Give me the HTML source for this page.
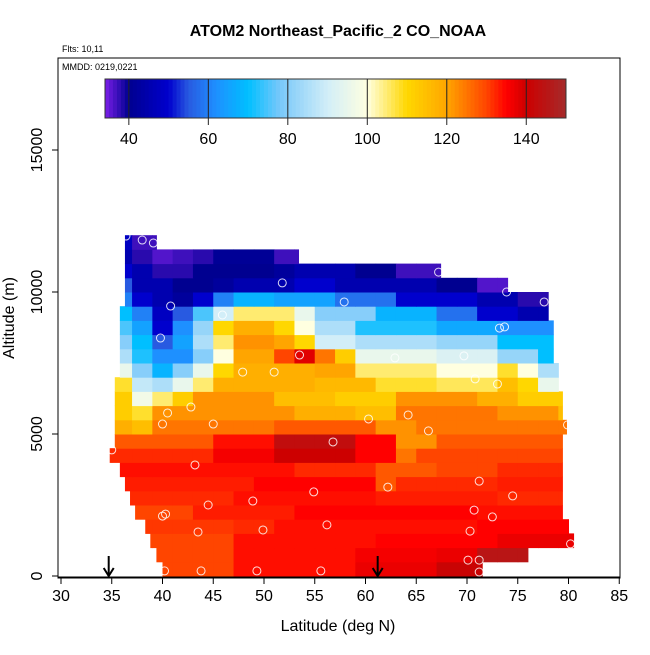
<!DOCTYPE html>
<html><head><meta charset="utf-8"><style>
body{margin:0;background:#fff;}
svg text{font-family:"Liberation Sans",sans-serif;}
</style></head><body>
<svg id="chart" width="650" height="650" xmlns="http://www.w3.org/2000/svg">
<text x="338" y="36" text-anchor="middle" font-size="16" font-weight="bold">ATOM2 Northeast_Pacific_2 CO_NOAA</text>
<text x="62" y="52" font-size="9">Flts: 10,11</text>
<g id="cells"></g>
<g id="pts"></g>
<rect x="58" y="58" width="562" height="520" fill="none" stroke="#000" stroke-width="1"/>
<text x="62" y="70" font-size="9">MMDD: 0219,0221</text>
<g id="cbar"></g>
<g id="axes"></g>
<text x="338" y="631" text-anchor="middle" font-size="16">Latitude (deg N)</text>
<text transform="translate(14,318) rotate(-90)" text-anchor="middle" font-size="16">Altitude (m)</text>
</svg>
<script>
const N=null;
const colLats=[34,36,38,40,42,44,46,48,50,52,54,56,58,60,62,64,66,68,70,72,74,76,78,80];
const rowStart=[40.0,39.4,38.8,38.3,37.3,36.8,36.3,35.8,34.8,35.3,35.3,35.3,35.3,35.3,35.8,35.8,35.8,35.8,35.8,36.3,36.3,36.3,36.3,36.3];
const rowEnd=[71.5,76.0,80.5,80.0,79.4,79.4,79.4,79.4,79.4,79.4,79.8,79.4,79.4,79.0,79.0,78.5,78.5,78.5,78.0,78.0,74.0,67.4,53.4,39.4];
const r0=[N,N,N,130,130,130,130,134,134,134,134,134,134,137,137,137,137,141,141,141,N,N,N,N];
const r1=[N,N,N,130,130,130,130,134,134,134,134,134,134,136,136,136,136,137,137,145,145,145,N,N];
const r2=[N,N,130,130,130,130,130,134,134,134,134,134,134,134,135,135,135,135,135,135,137,137,137,137];
const r3=[N,N,131,131,131,131,131,132,132,134,134,134,134,134,134,134,134,134,134,135,135,135,135,135];
const r4=[N,N,130,130,130,133,133,133,133,133,135,135,135,135,135,135,135,135,135,134,134,134,134,134];
const r5=[N,132,132,132,132,132,132,134,134,134,134,134,134,134,133,133,133,133,133,133,132,132,132,132];
const r6=[N,133,133,133,133,133,133,133,135,135,135,135,135,135,128,132,132,132,132,132,133,133,133,133];
const r7=[N,134,134,134,134,134,134,134,134,134,132,132,132,132,128,128,128,130,130,130,132,132,132,132];
const r8=[132,132,132,132,132,132,136,136,136,140,140,140,140,135,135,125,130,130,130,130,130,130,130,130];
const r9=[128,128,128,128,128,128,134,134,134,143,143,143,143,135,135,122,122,128,128,128,128,128,128,128];
const r10=[118,118,115,125,125,125,125,125,125,128,128,128,128,128,122,122,125,125,125,125,125,125,125,125];
const r11=[112,112,108,122,122,122,122,122,122,122,118,118,118,115,115,125,125,125,125,125,122,122,122,115];
const r12=[112,112,97,105,112,122,122,122,122,115,115,115,112,112,112,122,122,122,122,118,118,112,112,112];
const r13=[108,108,88,85,95,105,118,118,118,118,118,116,116,116,108,108,108,106,106,106,115,110,95,95];
const r14=[95,95,80,68,80,95,110,118,118,118,118,120,120,105,105,105,105,100,100,100,108,100,85,85];
const r15=[85,85,72,62,62,80,100,120,120,130,138,125,112,95,95,95,95,92,92,92,82,82,70,70];
const r16=[80,80,70,55,65,85,105,122,122,120,110,90,90,85,85,85,85,82,82,82,70,70,70,70];
const r17=[75,75,65,50,62,82,110,118,118,110,100,85,85,72,72,72,72,66,66,66,62,62,62,62];
const r18=[70,70,60,48,55,75,90,105,105,105,95,80,80,80,68,68,68,58,58,50,50,45,45,45];
const r19=[N,60,50,45,42,50,60,68,68,65,65,65,58,58,58,50,50,50,50,45,45,38,38,N];
const r20=[N,55,45,45,40,40,42,45,45,45,50,50,45,45,45,45,45,40,40,36,36,N,N,N];
const r21=[N,50,45,38,38,40,40,40,40,42,45,45,45,40,40,37,37,37,N,N,N,N,N,N];
const r22=[N,45,38,36,37,38,41,41,41,37,37,N,N,N,N,N,N,N,N,N,N,N,N,N];
const r23=[N,48,37,37,N,N,N,N,N,N,N,N,N,N,N,N,N,N,N,N,N,N,N,N];
const grid=[r0,r1,r2,r3,r4,r5,r6,r7,r8,r9,r10,r11,r12,r13,r14,r15,r16,r17,r18,r19,r20,r21,r22,r23];
const rowAltStep=500;
const ptLat=[36.4,38.0,39.1,67.2,51.8,73.9,57.9,77.6,40.8,45.9,73.2,73.7,39.8,53.5,62.9,69.7,47.9,51.0,70.8,73.0,42.8,40.5,40.0,45.0,60.3,64.2,66.2,79.9,56.8,35.0,43.2,71.2,54.9,62.2,74.5,44.5,48.9,70.7,72.5,40.3,40.0,43.5,49.9,56.2,70.3,80.2,70.1,71.2,40.2,43.8,49.3,55.6,71.2];
const ptAlt=[11970,11830,11725,10700,10320,10000,9650,9650,9505,9190,8730,8770,8380,7780,7680,7750,7180,7180,6940,6760,5950,5740,5350,5350,5530,5670,5110,5320,4720,4440,3910,3340,2960,3130,2820,2500,2640,2320,2080,2180,2110,1550,1620,1800,1580,1130,560,560,180,180,180,180,140];
const arrowLats=[34.7,61.2];
const xTicks=[30,35,40,45,50,55,60,65,70,75,80,85];
const yTicks=[0,5000,10000,15000];
const cbTicks=[40,60,80,100,120,140];
const cbMin=34,cbMax=150;
const stops=[[34,[123,31,232]],[40,[0,0,144]],[50,[0,0,205]],[55,[40,90,225]],[62,[30,144,255]],[70,[0,191,255]],[78,[120,200,250]],[90,[210,238,248]],[100,[255,255,224]],[110,[255,215,0]],[120,[255,165,0]],[130,[255,69,0]],[135,[255,0,0]],[140,[205,0,0]],[150,[165,42,42]]];
function col(v){if(v<=stops[0][0])return rgb(stops[0][1]);for(let i=1;i<stops.length;i++){if(v<=stops[i][0]){const a=stops[i-1],b=stops[i],t=(v-a[0])/(b[0]-a[0]);return rgb(a[1].map((c,j)=>Math.round(c+(b[1][j]-c)*t)));}}return rgb(stops[stops.length-1][1]);}
function rgb(a){return 'rgb('+a.join(',')+')';}
const X=lat=>61+(lat-30)*10.15;
const Y=alt=>576-alt*142/5000;
const NS='http://www.w3.org/2000/svg';
function mk(tag,attrs,parent){const e=document.createElementNS(NS,tag);for(const k in attrs)e.setAttribute(k,attrs[k]);parent.appendChild(e);return e;}
const cells=document.getElementById('cells');
grid.forEach((row,k)=>{row.forEach((v,i)=>{if(v===null)return;
 const l0=Math.max(colLats[i]-1,rowStart[k]),l1=Math.min(colLats[i]+1,rowEnd[k]);if(l1<=l0)return;
 const x0=X(l0),x1=X(l1),y0=Y((k+1)*rowAltStep),y1=Y(k*rowAltStep);
 const r=mk('rect',{x:x0,y:y0,width:x1-x0+0.5,height:y1-y0+0.5,fill:col(v)},cells);
 
 });});
const pts=document.getElementById('pts');
ptLat.forEach((la,i)=>{const c=mk('circle',{cx:X(la),cy:Y(ptAlt[i]),r:4,fill:'none',stroke:'#fff','stroke-width':1,'stroke-opacity':0.85},pts);
 
 });
const axes=document.getElementById('axes');
xTicks.forEach(t=>{mk('line',{x1:X(t),x2:X(t),y1:578,y2:584,stroke:'#000'},axes);
 const tx=mk('text',{x:X(t),y:601,'text-anchor':'middle','font-size':16},axes);tx.textContent=t;
 
 });
yTicks.forEach(t=>{mk('line',{x1:52,x2:58,y1:Y(t),y2:Y(t),stroke:'#000'},axes);
 const tx=mk('text',{transform:`translate(42,${Y(t)}) rotate(-90)`,'text-anchor':'middle','font-size':16},axes);tx.textContent=t;
 
 });
mk('line',{x1:58,x2:620,y1:577,y2:577,stroke:'#000','stroke-width':1},axes);
arrowLats.forEach(la=>{const g=mk('g',{},axes);
 
 
 mk('line',{x1:X(la),x2:X(la),y1:556,y2:575,stroke:'#000','stroke-width':2},g);
 mk('path',{d:`M${X(la)-5},568 L${X(la)},576 L${X(la)+5},568`,fill:'none',stroke:'#000','stroke-width':2},g);});
const cb=document.getElementById('cbar');
const cbX=v=>105+(v-cbMin)*(566-105)/(cbMax-cbMin);
for(let v=cbMin;v<cbMax;v+=1){mk('rect',{x:cbX(v),y:79,width:cbX(v+1)-cbX(v)+0.5,height:39,fill:col(v+0.5)},cb);}
mk('rect',{x:105,y:79,width:461,height:39,fill:'none',stroke:'#333'},cb);
cbTicks.forEach(t=>{mk('line',{x1:cbX(t),x2:cbX(t),y1:79,y2:125,stroke:'#222'},cb);
 const tx=mk('text',{x:cbX(t),y:144,'text-anchor':'middle','font-size':16},cb);tx.textContent=t;
 
 });
</script>
</body></html>
